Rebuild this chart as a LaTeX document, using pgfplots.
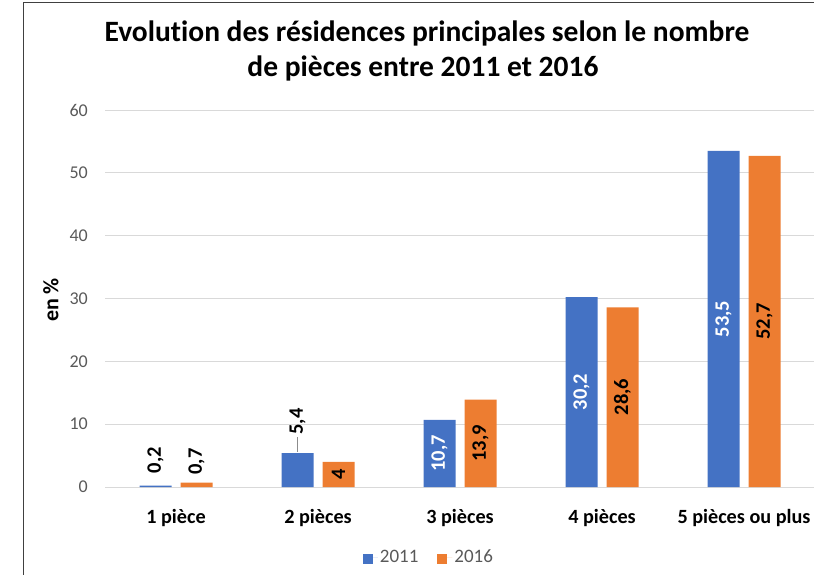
\documentclass[border=0pt]{standalone}
\usepackage{fontspec}
\setmainfont[Ligatures=NoCommon]{Carlito}
\usepackage{pgfplots}
\usepackage{pgfplotstable}
\pgfplotsset{compat=1.18}
\definecolor{cA}{HTML}{4472C4}
\definecolor{cB}{HTML}{ED7D31}
\definecolor{gridc}{HTML}{D9D9D9}
\definecolor{tickc}{HTML}{595959}
\definecolor{framec}{HTML}{404040}

% mode 0: label centred in bar; 1: above bar; 2: above bar with leader line
\pgfplotstableread{
x y mode dy wh
0 0.2 1 25.5 0
1 5.4 2 23 0
2 10.7 0 0 1
3 30.2 0 0 1
4 53.5 0 0 1
}\dataA
\pgfplotstableread{
x y mode dy wh
0 0.7 1 21 0
1 4 0 0 0
2 13.9 0 0 0
3 28.6 0 0 0
4 52.7 0 0 0
}\dataB

\begin{document}
\begin{tikzpicture}[x=1pt,y=1pt]
\draw[framec, line width=1pt] (23,-5) -- (23,571) -- (830,571);
\node[anchor=base, font=\bfseries\fontsize{29.5}{32}\selectfont] at (427,532) {Evolution des résidences principales selon le nombre};
\node[anchor=base, font=\bfseries\fontsize{29.5}{32}\selectfont] at (423,497) {de pièces entre 2011 et 2016};
\node[rotate=90, font=\bfseries\fontsize{22}{24}\selectfont] at (51,274) {en \%};
\begin{axis}[
  at={(105pt,87pt)}, anchor=south west,
  scale only axis, width=710pt, height=377pt,
  ybar=9pt, bar width=32pt,
  xmin=-0.5, xmax=4.5, ymin=0, ymax=60,
  ytick={0,10,...,60},
  xtick={0,1,2,3,4},
  xticklabels={1 pièce, 2 pièces, 3 pièces, 4 pièces, 5 pièces ou plus},
  axis line style={draw=none},
  major tick length=0pt,
  ymajorgrids, grid style={gridc, line width=1pt},
  /pgf/number format/assume math mode=true,
  /pgf/number format/use comma,
  yticklabel style={font=\fontsize{18}{20}\selectfont, text=tickc, inner sep=0pt, xshift=-17pt},
  xticklabel style={font=\bfseries\fontsize{20.2}{22}\selectfont, anchor=north, inner sep=0pt, yshift=-22pt},
  legend columns=2,
  legend style={at={(0.4563,-0.1857)}, anchor=center, draw=none, fill=none,
    font=\fontsize{19}{21}\selectfont, text=tickc,
    /tikz/every even column/.append style={column sep=17pt}},
  legend image code/.code={\fill[#1, draw=none] (0pt,-7pt) rectangle (10pt,3pt); \path (0pt,0pt) -- (15pt,0pt);},
  visualization depends on={y \as \yv},
  visualization depends on={\thisrow{mode} \as \mode},
  visualization depends on={\thisrow{dy} \as \dyv},
  visualization depends on={\thisrow{wh} \as \wh},
  nodes near coords={\ifdim\wh pt>0.5pt\color{white}\fi\ifdim\mode pt>1.5pt {\color{black!45}\rule[0.22em]{15pt}{0.8pt}}\hspace{2pt}\fi\pgfmathprintnumber{\pgfplotspointmeta}},
  every node near coord/.append style={anchor=center, inner sep=0pt,
    yshift={(\mode<0.5 ? -\yv*3.141667 : \dyv)*1pt}, rotate=90,
    font=\bfseries\fontsize{20.5}{24}\selectfont, text=black},
]
\addplot[fill=cA, draw=none] table[x=x, y=y] {\dataA};
\addplot[fill=cB, draw=none] table[x=x, y=y] {\dataB};
\legend{2011, 2016}
\end{axis}
\pgfresetboundingbox
\useasboundingbox (0,0) rectangle (814,574);
\end{tikzpicture}
\end{document}
